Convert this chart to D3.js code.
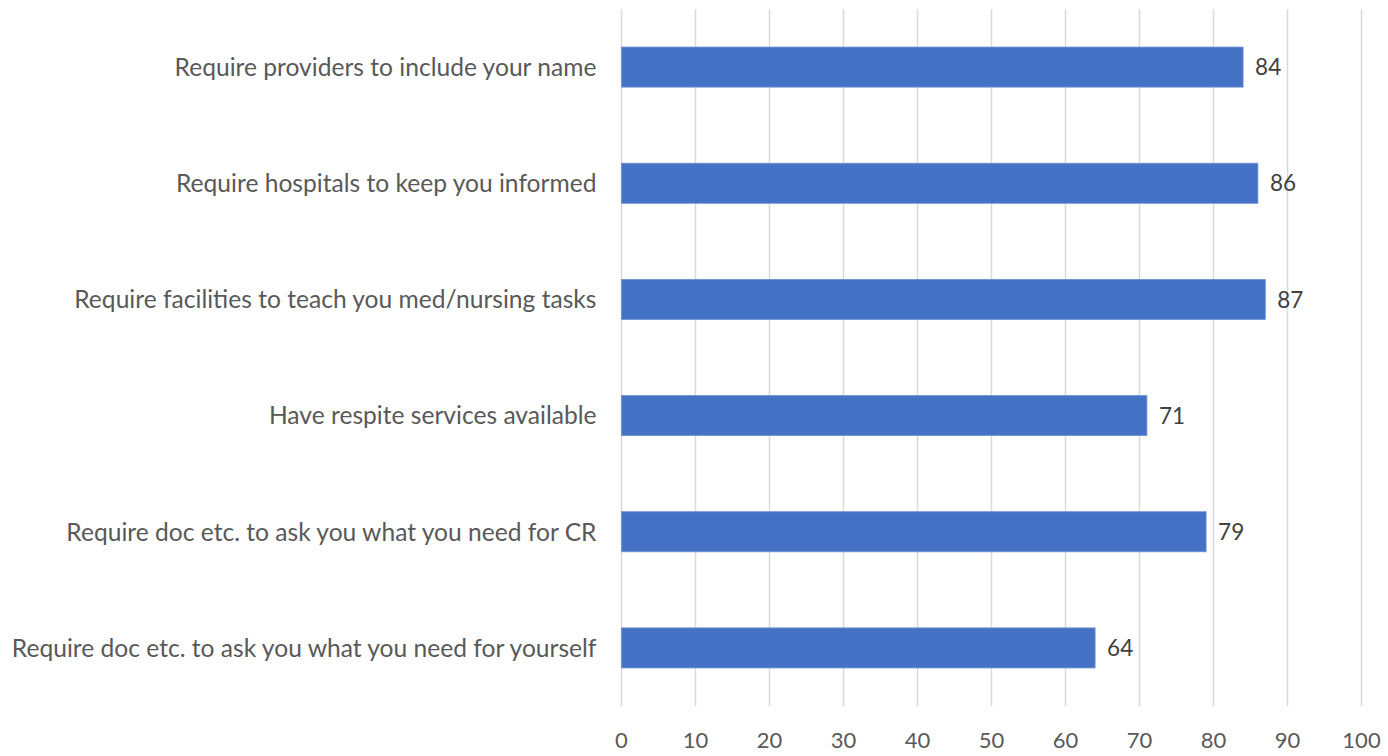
<!DOCTYPE html>
<html>
<head>
<meta charset="utf-8">
<script src="https://cdn.jsdelivr.net/npm/d3@7"></script>
<style>
  html, body { margin: 0; padding: 0; background: #fff; }
  svg { display: block; }
  text { font-family: Lato, "Open Sans", sans-serif; }
</style>
</head>
<body>
<svg id="chart" width="1388" height="756"></svg>
<script>
const categories = [
  "Require providers to include your name",
  "Require hospitals to keep you informed",
  "Require facilities to teach you med/nursing tasks",
  "Have respite services available",
  "Require doc etc. to ask you what you need for CR",
  "Require doc etc. to ask you what you need for yourself"
];
const values = [84, 86, 87, 71, 79, 64];
const xTicks = [0, 10, 20, 30, 40, 50, 60, 70, 80, 90, 100];

const svg = d3.select("#chart");
const margin = { left: 621.5, right: 26.5, top: 9, bottom: 50 };
const W = 1388, H = 756;

const x = d3.scaleLinear().domain([0, 100]).range([margin.left, W - margin.right]);
const y = d3.scaleBand().domain(categories).range([margin.top, H - margin.bottom]).paddingInner(0.655).paddingOuter(0.3275);

// gridlines
svg.append("g").selectAll("line").data(xTicks).join("line")
  .attr("x1", d => x(d)).attr("x2", d => x(d))
  .attr("y1", margin.top).attr("y2", H - margin.bottom)
  .attr("stroke", "#d9d9d9").attr("stroke-width", 1.5);

// bars
svg.append("g").selectAll("rect").data(values).join("rect")
  .attr("x", x(0))
  .attr("y", (d, i) => y(categories[i]))
  .attr("width", d => x(d) - x(0))
  .attr("height", y.bandwidth())
  .attr("fill", "#4472C4")
  .attr("stroke", "#6f92d2").attr("stroke-width", 0.8);

// value labels
svg.append("g").selectAll("text").data(values).join("text")
  .attr("x", d => x(d) + 12)
  .attr("y", (d, i) => y(categories[i]) + y.bandwidth() / 2)
  .attr("dy", "0.36em")
  .attr("font-size", 22.5)
  .attr("fill", "#404040")
  .text(d => d);

// category labels
svg.append("g").selectAll("text").data(categories).join("text")
  .attr("x", x(0) - 25)
  .attr("y", d => y(d) + y.bandwidth() / 2)
  .attr("dy", "0.36em")
  .attr("text-anchor", "end")
  .attr("font-size", 24.6)
  .attr("fill", "#595959")
  .text(d => d);

// x tick labels
svg.append("g").selectAll("text").data(xTicks).join("text")
  .attr("x", d => x(d))
  .attr("y", 740)
  .attr("dy", "0.36em")
  .attr("text-anchor", "middle")
  .attr("font-size", 22)
  .attr("fill", "#595959")
  .text(d => d);
</script>
</body>
</html>
